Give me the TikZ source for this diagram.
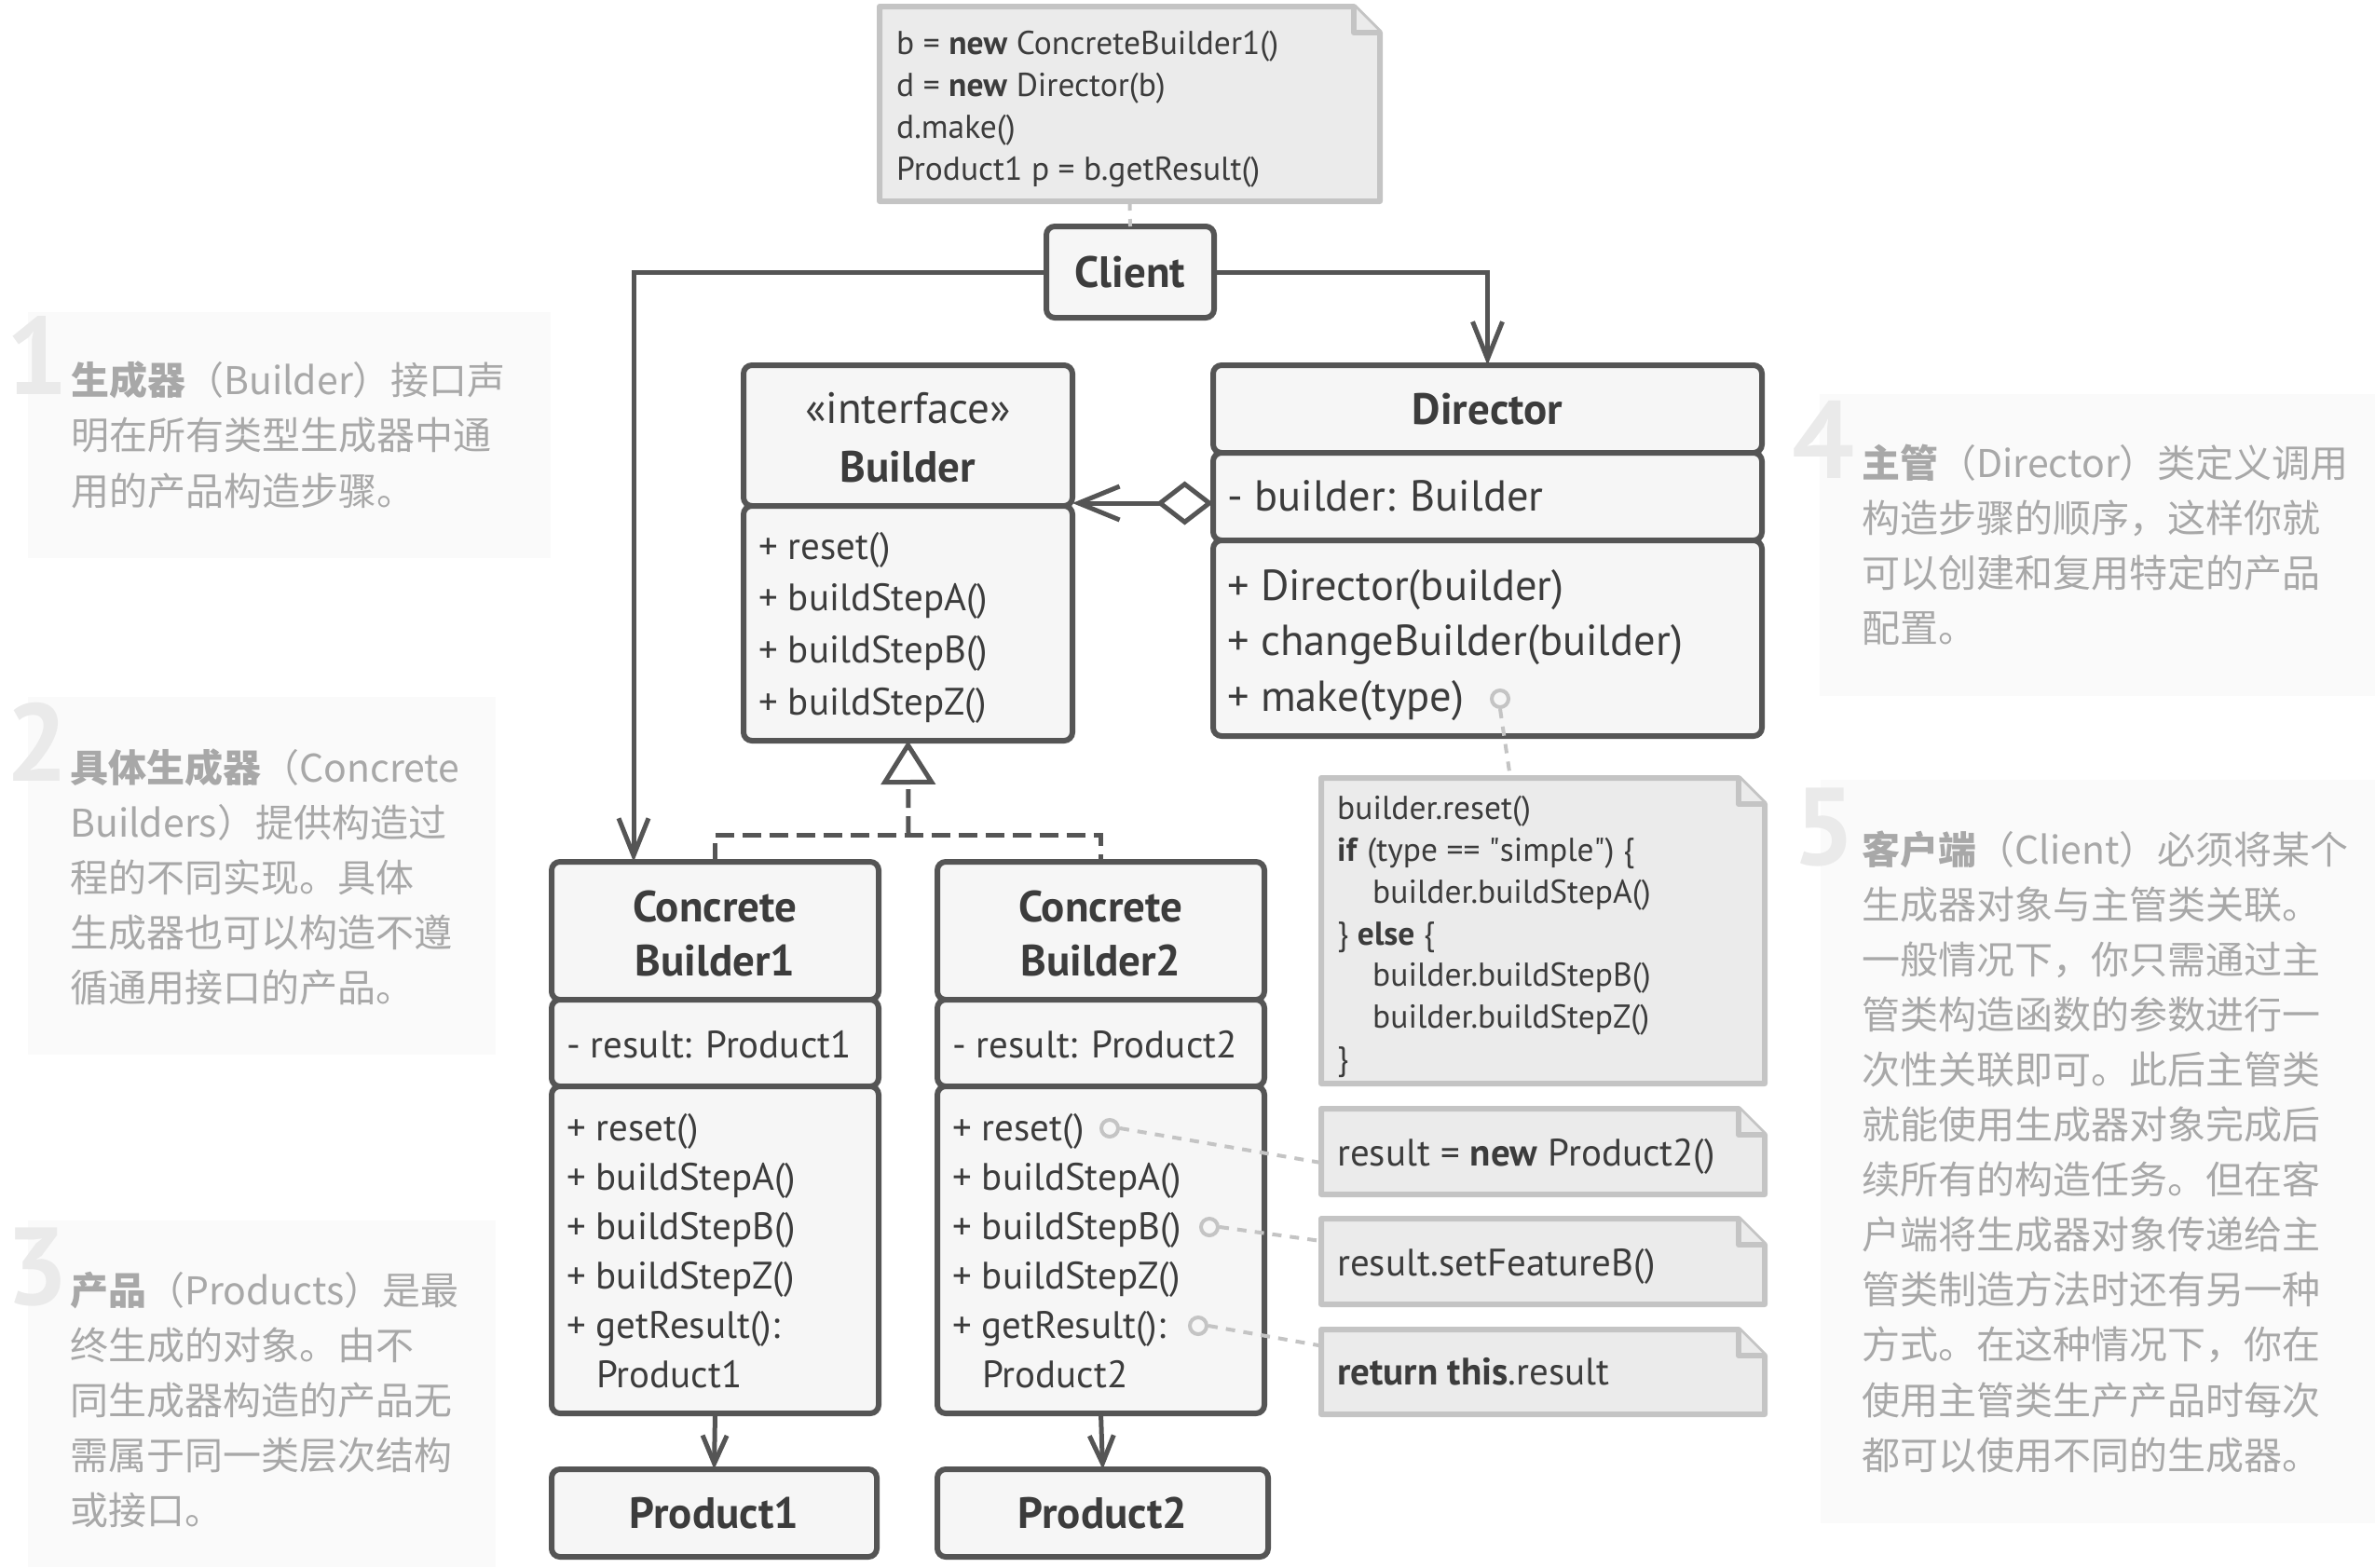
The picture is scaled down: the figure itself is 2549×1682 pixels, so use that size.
\documentclass[tikz,border=0pt]{standalone}
\usepackage{fontspec}
\setmainfont{PT Sans}
\newfontfamily\rawsans{PT Sans}[Ligatures=ResetAll]
\newfontfamily\cjk{Noto Sans CJK SC}
\usetikzlibrary{arrows.meta,calc,fit}

\definecolor{ink}{HTML}{3C3C3C}
\definecolor{edge}{HTML}{555555}
\definecolor{boxfill}{HTML}{F6F6F6}
\definecolor{notefill}{HTML}{EBEBEB}
\definecolor{noteedge}{HTML}{C4C4C4}
\definecolor{panelbg}{HTML}{FAFAFA}
\definecolor{paneltxt}{HTML}{A8A8A8}
\definecolor{numc}{HTML}{EAEAEA}

\tikzset{
  compart/.style={draw=edge, fill=boxfill, line width=6pt, rounded corners=9pt,
                  inner sep=0pt, outer sep=0pt},
  area/.style={inner sep=0pt, outer sep=0pt},
  noteline/.style={draw=noteedge, fill=notefill, line width=6pt, line join=round},
  mem/.style={anchor=base west, inner sep=0pt, text=ink,
              font=\fontsize{41}{50}\selectfont, yshift=-13pt},
  dmem/.style={anchor=base west, inner sep=0pt, text=ink,
               font=\fontsize{46.5}{50}\selectfont, yshift=-15pt},
  ttl/.style={anchor=base, inner sep=0pt, text=ink,
              font=\bfseries\fontsize{47}{50}\selectfont, yshift=-16pt},
  stereo/.style={anchor=base, inner sep=0pt, text=ink,
              font=\fontsize{47}{50}\selectfont, yshift=-15pt},
  code/.style={anchor=base west, inner sep=0pt, text=ink,
               font=\fontsize{35.5}{40}\selectfont, yshift=-11.5pt},
  bigcode/.style={anchor=base west, inner sep=0pt, text=ink,
               font=\fontsize{41}{45}\selectfont, yshift=-13pt},
  cjkline/.style={anchor=base west, inner sep=0pt, text=paneltxt,
                  font=\cjk\fontsize{41}{50}\selectfont, yshift=-15pt},
  bignum/.style={anchor=base west, inner sep=0pt, text=numc,
                 font=\bfseries\fontsize{118}{120}\selectfont},
  conn/.style={draw=edge, line width=5pt},
  head/.style={-{Straight Barb[length=40pt,width=32pt]}},
  smallhead/.style={-{Straight Barb[length=30pt,width=26pt]}},
  impl/.style={draw=edge, line width=5pt, dash pattern=on 20pt off 9pt},
  dotline/.style={draw=noteedge, line width=4pt, dash pattern=on 10pt off 9pt},
  port/.style={circle, draw=noteedge, line width=4pt, minimum size=18pt,
               inner sep=0pt, fill=boxfill},
}

% note with a folded top-right corner, drawn around an invisible fit node
\newcommand\foldnote[1]{%
  \path[noteline] (#1.north west) -- ($(#1.north east)+(-28,0)$)
     -- ($(#1.north east)+(0,28)$) -- (#1.south east) -- (#1.south west) -- cycle;
  \path[noteline] ($(#1.north east)+(-28,0)$) -- ++(0,28)
     -- ($(#1.north east)+(0,28)$);
}

\begin{document}
\begin{tikzpicture}[x=1pt,y=-1pt]
\useasboundingbox (0,0) rectangle (2549,1682);

% ---------- side panels ----------
\fill[panelbg] (30,335) rectangle (591,599);
\fill[panelbg] (30,748) rectangle (532,1132);
\fill[panelbg] (30,1310) rectangle (532,1682);
\fill[panelbg] (1953,423) rectangle (2549,747);
\fill[panelbg] (1954,837) rectangle (2549,1635);

\node[bignum] (num1) at (6,423) {1};
\node[bignum] (num2) at (6,838) {2};
\node[bignum] (num3) at (6,1400) {3};
\node[bignum] (num4) at (1923,513) {4};
\node[bignum] (num5) at (1924,928) {5};

\foreach \t [count=\i from 0] in {
  {{\bfseries 生成器}（Builder）接口声},
  明在所有类型生成器中通,
  用的产品构造步骤。}
  \node[cjkline, name=pa-\i] at (76, 408+\i*59.7) {\t};

\foreach \t [count=\i from 0] in {
  {{\bfseries 具体生成器}（Concrete},
  Builders）提供构造过,
  程的不同实现。具体,
  生成器也可以构造不遵,
  循通用接口的产品。}
  \node[cjkline, name=pb-\i] at (75, 824+\i*59) {\t};

\foreach \t [count=\i from 0] in {
  {{\bfseries 产品}（Products）是最},
  终生成的对象。由不,
  同生成器构造的产品无,
  需属于同一类层次结构,
  或接口。}
  \node[cjkline, name=pc-\i] at (75, 1385+\i*59) {\t};

\foreach \t [count=\i from 0] in {
  {{\bfseries 主管}（Director）类定义调用},
  构造步骤的顺序，这样你就,
  可以创建和复用特定的产品,
  配置。}
  \node[cjkline, name=pd-\i] at (1998, 497+\i*59.3) {\t};

\foreach \t [count=\i from 0] in {
  {{\bfseries 客户端}（Client）必须将某个},
  生成器对象与主管类关联。,
  一般情况下，你只需通过主,
  管类构造函数的参数进行一,
  次性关联即可。此后主管类,
  就能使用生成器对象完成后,
  续所有的构造任务。但在客,
  户端将生成器对象传递给主,
  管类制造方法时还有另一种,
  方式。在这种情况下，你在,
  使用主管类生产产品时每次,
  都可以使用不同的生成器。}
  \node[cjkline, name=pe-\i] at (1998, 912+\i*59.1) {\t};

% ---------- notes ----------
\node[area, fit={(944,7) (1481,216)}] (cnote) {};
\foldnote{cnote}
\node[code] (cn0) at (962,47) {b = \textbf{new} ConcreteBuilder1()};
\node[code] (cn1) at (962,92) {d = \textbf{new} Director(b)};
\node[code] (cn2) at (962,137) {d.make()};
\node[code] (cn3) at (962,182) {Product1 p = b.getResult()};

\node[area, fit={(1418,835) (1894,1163)}] (mnote) {};
\foldnote{mnote}
\node[code] (mn0) at (1435,868) {builder.reset()};
\node[code] (mn1) at (1435,913) {\textbf{if} (type == {\rawsans"}simple{\rawsans"}) \{};
\node[code] (mn2) at (1473,958) {builder.buildStepA()};
\node[code] (mn3) at (1435,1003) {\} \textbf{else} \{};
\node[code] (mn4) at (1473,1047) {builder.buildStepB()};
\node[code] (mn5) at (1473,1092) {builder.buildStepZ()};
\node[code] (mn6) at (1435,1137) {\}};

\node[area, fit={(1418,1190) (1894,1282)}] (rnote) {};
\foldnote{rnote}
\node[bigcode] (rn) at (1435,1238) {result = \textbf{new} Product2()};

\node[area, fit={(1418,1308) (1894,1400)}] (fnote) {};
\foldnote{fnote}
\node[bigcode] (fn) at (1435,1356) {result.setFeatureB()};

\node[area, fit={(1418,1427) (1894,1518)}] (gnote) {};
\foldnote{gnote}
\node[bigcode] (gn) at (1435,1473) {\textbf{return this}.result};

% ---------- classes ----------
\node[compart, fit={(1123,243) (1303,341)}] (client) {};
\node[ttl] (clientT) at (client.center) {Client};

% Builder interface
\node[compart, fit={(798,392) (1151,543)}] (bh) {};
\node[compart, fit={(798,543) (1151,795)}] (bm) {};
\node[stereo] (bS) at (974.5,439) {«interface»};
\node[ttl] (bT) at (974.5,501) {Builder};
\foreach \m [count=\i from 0] in {+ reset(), + buildStepA(), + buildStepB(), + buildStepZ()}
  \node[mem, name=bm-\i] at (814, 587+\i*55.7) {\m};

% Director
\node[compart, fit={(1302,392) (1891,486)}] (dt) {};
\node[compart, fit={(1302,486) (1891,580)}] (da) {};
\node[compart, fit={(1302,580) (1891,790)}] (dm) {};
\node[ttl] (dT) at (dt.center) {Director};
\node[dmem] (dA) at (1317,533) {- builder: Builder};
\foreach \m [count=\i from 0] in {+ Director(builder), + changeBuilder(builder), + make(type)}
  \node[dmem, name=dm-\i] at (1317, 629+\i*59.5) {\m};

% Concrete builders
\foreach \k/\x/\n in {1/592/1, 2/1006/2} {
  \node[compart, fit={(\x,925) (\x+351,1073)}] (c\k t) {};
  \node[compart, fit={(\x,1073) (\x+351,1166)}] (c\k a) {};
  \node[compart, fit={(\x,1166) (\x+351,1517)}] (c\k m) {};
  \node[ttl] (c\k T1) at (\x+175.5,973) {Concrete};
  \node[ttl] (c\k T2) at (\x+175.5,1031) {Builder\n};
  \node[mem] (c\k A) at (\x+16,1122) {- result: Product\n};
  \foreach \m [count=\i from 0] in {+ reset(), + buildStepA(), + buildStepB(), + buildStepZ(), + getResult():}
    \node[mem, name=c\k m-\i] at (\x+16, 1211+\i*53) {\m};
  \node[mem] (c\k R) at (\x+48,1476) {Product\n};
}

% Products
\node[compart, fit={(592,1577) (941,1671)}] (p1) {};
\node[ttl] (p1T) at (p1.center) {Product1};
\node[compart, fit={(1006,1577) (1361,1671)}] (p2) {};
\node[ttl] (p2T) at (p2.center) {Product2};

% ---------- connectors ----------
\coordinate (cbIn) at (680,925);
\draw[conn, head] (client.west) -| (cbIn);
\draw[conn, head] (client.east) -| (dt.north);

% aggregation Director -> Builder
\draw[conn, {Diamond[length=61pt,width=47pt,fill=white]}-{Straight Barb[length=44pt,width=36pt]}]
  ($(da.west)+(0,7)$) -- ($(da.west -| bh.east)+(0,7)$);

% realization of the Builder interface
\coordinate (jn) at (975,896);
\draw[impl] (c1t.north) |- (jn) -| (c2t.north);
\draw[impl, -{Triangle[length=47pt,width=58pt,fill=white]}] (jn) -- (bm.south);

% builders create products
\draw[conn, smallhead] (c1m.south) -- (p1.north);
\draw[conn, smallhead] (c2m.south) -- (p2.north);

% client code note
\draw[dotline] (cnote.south) -- (client.north);

% implementation notes
\node[port] (oMake) at (1610,750) {};
\draw[dotline] (oMake.south) -- ($(mnote.north west)+(203,0)$);
\node[port] (oReset) at (1191,1211) {};
\draw[dotline] (oReset.east) -- ($(rnote.west)+(0,12)$);
\node[port] (oStepB) at (1298,1317) {};
\draw[dotline] (oStepB.east) -- ($(fnote.west)+(0,-22)$);
\node[port] (oRes) at (1286,1423) {};
\draw[dotline] (oRes.east) -- ($(gnote.west)+(0,-28)$);

\end{tikzpicture}
\end{document}
